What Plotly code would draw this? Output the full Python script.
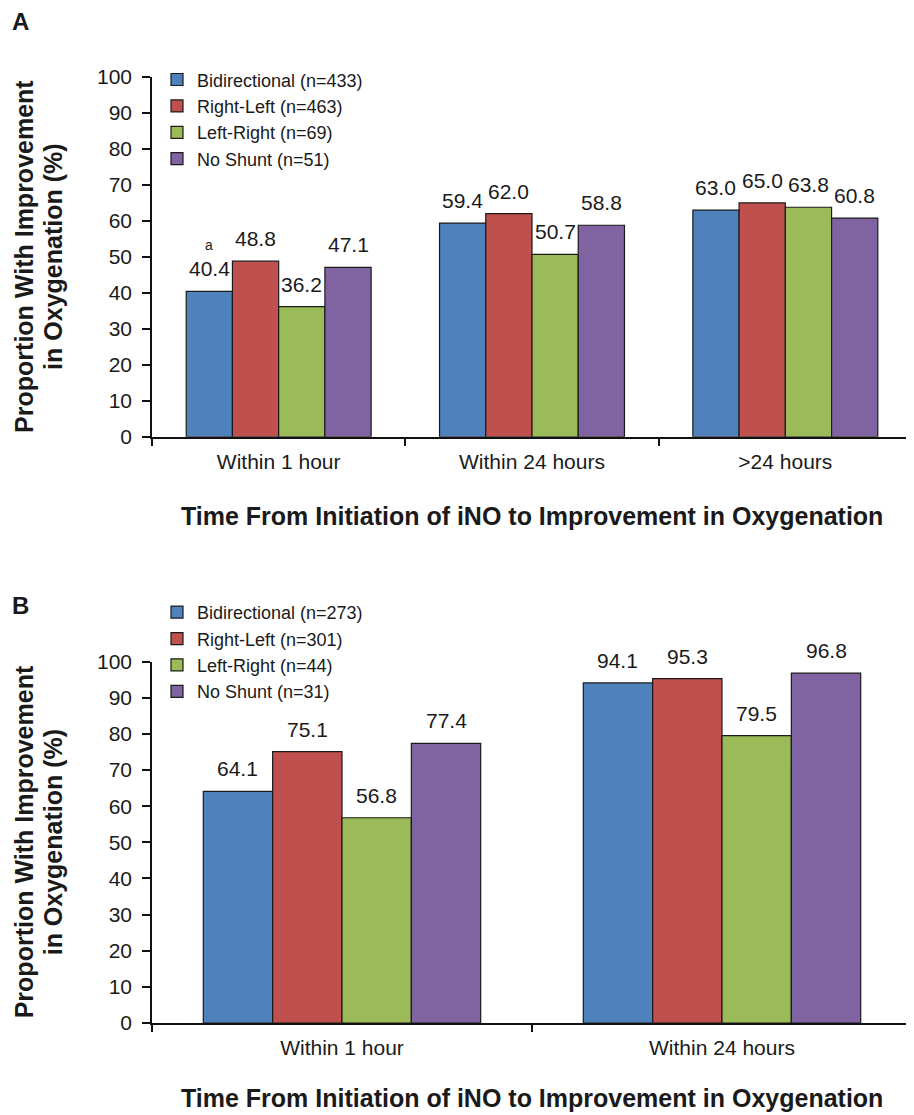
import plotly.graph_objects as go
from plotly.subplots import make_subplots

# ---------------- data ----------------
series_names = ["Bidirectional", "Right-Left", "Left-Right", "No Shunt"]
colors = ["#4F81BD", "#C0504D", "#9BBB59", "#8064A2"]

cats_a = ["Within 1 hour", "Within 24 hours", ">24 hours"]
n_a = [433, 463, 69, 51]
bidirectional_a = [40.4, 59.4, 63.0]
right_left_a = [48.8, 62.0, 65.0]
left_right_a = [36.2, 50.7, 63.8]
no_shunt_a = [47.1, 58.8, 60.8]

cats_b = ["Within 1 hour", "Within 24 hours"]
n_b = [273, 301, 44, 31]
bidirectional_b = [64.1, 94.1]
right_left_b = [75.1, 95.3]
left_right_b = [56.8, 79.5]
no_shunt_b = [77.4, 96.8]

y_ticks = list(range(0, 101, 10))

vals_a = [bidirectional_a, right_left_a, left_right_a, no_shunt_a]
vals_b = [bidirectional_b, right_left_b, left_right_b, no_shunt_b]

# ---------------- figure ----------------
# The page body has an 8px default margin, so the figure is drawn 8px smaller
# and all reference pixel positions are offset by 8px.
OFF = 8
W, H = 914 - OFF, 1115 - OFF
plot_left, plot_right = 152, 912          # reference pixels
top_a, bot_a = 76.7, 436.7
top_b, bot_b = 661.7, 1023.3
ML = plot_left - OFF
MR = W - (plot_right - OFF)
MT = top_a - OFF
MB = H - (bot_b - OFF)
FONT = "Liberation Sans, Arial, sans-serif"
BARGAP = 0.27

def py(p):
    return (bot_b - p) / (bot_b - top_a)

pw = plot_right - plot_left
def px(p):
    return (p - plot_left) / pw

fig = make_subplots(rows=2, cols=1, vertical_spacing=0.0)

for i, name in enumerate(series_names):
    fig.add_trace(go.Bar(
        x=cats_a, y=vals_a[i], name=f"{name} (n={n_a[i]})",
        marker=dict(color=colors[i], line=dict(color="#1a1a1a", width=1.2)),
        legend="legend", showlegend=True), row=1, col=1)
for i, name in enumerate(series_names):
    fig.add_trace(go.Bar(
        x=cats_b, y=vals_b[i], name=f"{name} (n={n_b[i]})",
        marker=dict(color=colors[i], line=dict(color="#1a1a1a", width=1.2)),
        legend="legend2", showlegend=True), row=2, col=1)

axis_common = dict(showline=True, linecolor="#111", linewidth=1.5, mirror=False,
                   ticks="outside", tickcolor="#111", tickwidth=1.5,
                   showgrid=False, zeroline=False, automargin=False)
xfont = dict(family=FONT, size=21, color="#1a1a1a")
yfont = dict(family=FONT, size=21, color="#1a1a1a")
legfont = dict(family=FONT, size=18, color="#1a1a1a")

fig.update_layout(
    width=W, height=H, margin=dict(l=ML, r=MR, t=MT, b=MB, autoexpand=False),
    paper_bgcolor="white", plot_bgcolor="white",
    barmode="group", bargap=BARGAP, bargroupgap=0.0,
    font=dict(family=FONT, color="#1a1a1a"),
    xaxis=dict(domain=[0, 1], anchor="y", type="category", tickson="boundaries",
               ticklen=7, ticklabelstandoff=5, tickfont=xfont,
               range=[-0.5, len(cats_a) - 0.5], **axis_common),
    yaxis=dict(domain=[py(bot_a), py(top_a)], anchor="x", range=[0, 100],
               tickvals=y_ticks, ticklen=8, ticklabelstandoff=6, tickfont=yfont, **axis_common),
    xaxis2=dict(domain=[0, 1], anchor="y2", type="category", tickson="boundaries",
                ticklen=7, ticklabelstandoff=5, tickfont=xfont,
                range=[-0.5, len(cats_b) - 0.5], **axis_common),
    yaxis2=dict(domain=[0, py(top_b)], anchor="x2", range=[0, 100],
                tickvals=y_ticks, ticklen=8, ticklabelstandoff=6, tickfont=yfont, **axis_common),
    legend=dict(x=px(157), y=py(61), xanchor="left", yanchor="top", font=legfont,
                bgcolor="rgba(0,0,0,0)", tracegroupgap=0),
    legend2=dict(x=px(157), y=py(594), xanchor="left", yanchor="top", font=legfont,
                 bgcolor="rgba(0,0,0,0)", tracegroupgap=0),
)

annotations = []
bw = (1 - BARGAP) / len(series_names)
for xref, yref, cats, vals in [("x", "y", cats_a, vals_a), ("x2", "y2", cats_b, vals_b)]:
    for i in range(len(series_names)):
        off = (i - (len(series_names) - 1) / 2) * bw
        for j, v in enumerate(vals[i]):
            annotations.append(dict(x=j + off, y=v, xref=xref, yref=yref,
                                    text=f"{v:.1f}", showarrow=False,
                                    xanchor="center", yanchor="bottom", yshift=9,
                                    font=dict(family=FONT, size=21, color="#1a1a1a")))

# footnote marker "a" above first bar of panel A
off0 = (0 - 1.5) * bw
annotations.append(dict(x=0 + off0, y=bidirectional_a[0], xref="x", yref="y", text="a",
                        showarrow=False, xanchor="center", yanchor="bottom", yshift=36,
                        font=dict(family=FONT, size=14, color="#1a1a1a")))

# axis titles
xtitle = "Time From Initiation of iNO to Improvement in Oxygenation"
for yp in [py(516), py(1098)]:
    annotations.append(dict(x=0.5, y=yp, xref="paper", yref="paper", text=f"<b>{xtitle}</b>",
                            showarrow=False, xanchor="center", yanchor="middle",
                            font=dict(family=FONT, size=25, color="#1a1a1a")))

line1 = "Proportion With Improvement"
line2 = "in Oxygenation (%)"
for ymid in [py((top_a + bot_a) / 2), py((top_b + bot_b) / 2)]:
    for txt, xpix in [(line1, 24), (line2, 53)]:
        annotations.append(dict(x=px(xpix), y=ymid, xref="paper", yref="paper",
                                text=f"<b>{txt}</b>", textangle=-90, showarrow=False,
                                xanchor="center", yanchor="middle",
                                font=dict(family=FONT, size=25, color="#1a1a1a")))

# panel letters
for letter, ypix in [("A", 21), ("B", 606)]:
    annotations.append(dict(x=px(20), y=py(ypix), xref="paper", yref="paper",
                            text=f"<b>{letter}</b>", showarrow=False,
                            xanchor="center", yanchor="middle",
                            font=dict(family=FONT, size=24, color="#1a1a1a")))

fig.update_layout(annotations=annotations)
fig.write_html("out.html")
